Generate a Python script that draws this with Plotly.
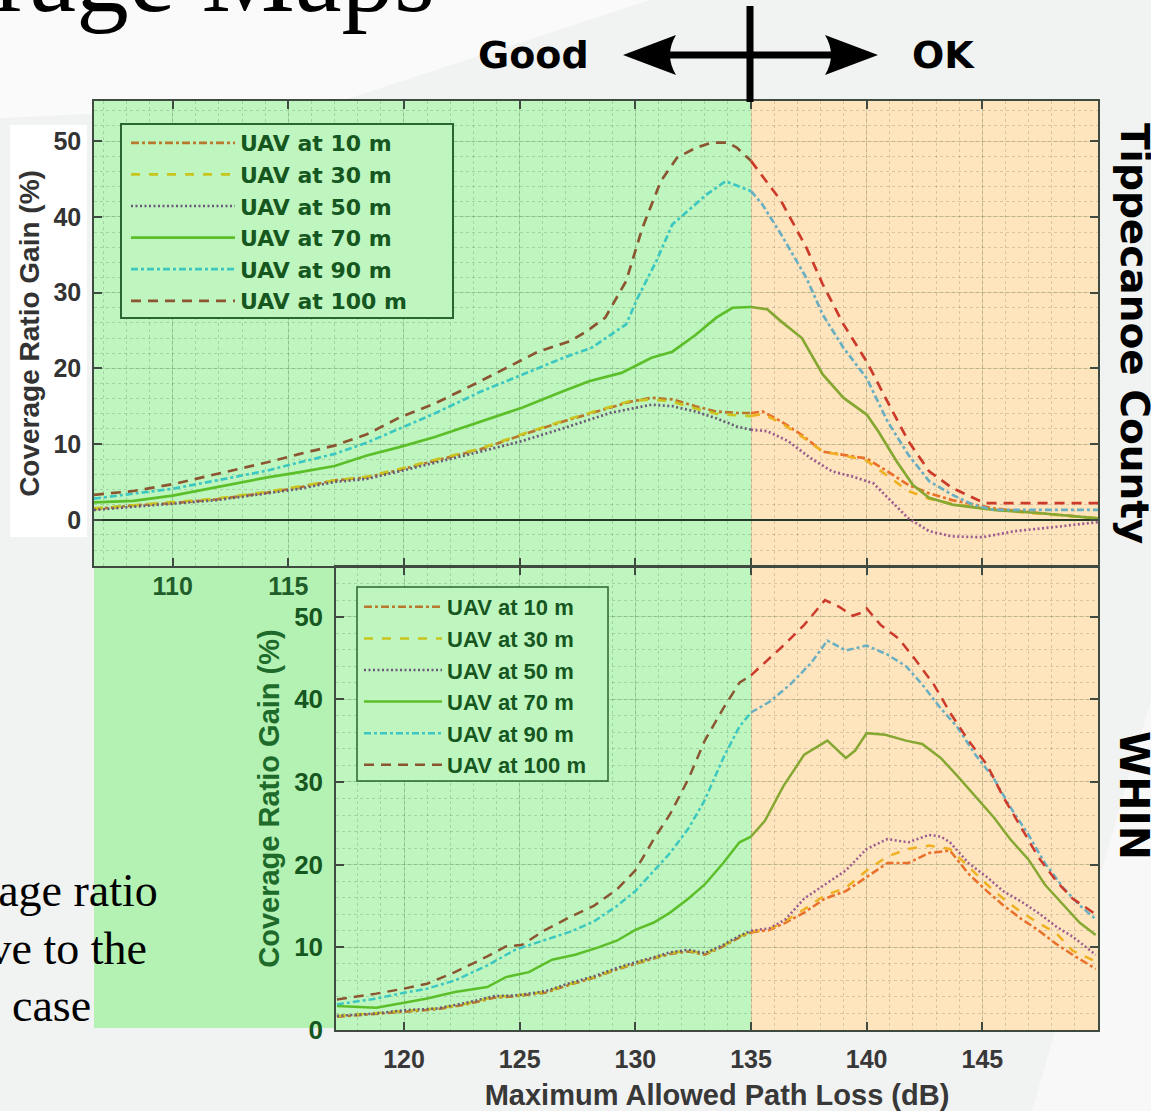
import plotly.graph_objects as go

W, H = 1151, 1111
def px(x): return x / W
def py(y): return 1 - y / H

SPLIT = 135

# ---------------- data: Tippecanoe County (top) ----------------
tip_x_10 = [106.6,108.3,110,111.9,114.1,115.5,117,118.4,119.8,121.3,123.3,125.1,126.9,128.9,129.8,130.7,131.6,132.6,133.5,134.4,135,135.5,136.3,137.2,138.1,139,140,140.9,141.8,142.7,143.7,145.5,147.4,150]
tip_y_10 = [1.4,1.9,2.2,2.7,3.6,4.3,5.2,5.6,6.6,7.8,9.3,11.2,13.0,14.8,15.6,16.1,15.9,15.0,14.3,14.1,14.1,14.3,13.0,11.2,9.0,8.6,8.1,6.4,4.6,3.5,2.6,1.5,0.9,0.2]
tip_x_30 = tip_x_10
tip_y_30 = [1.5,1.9,2.3,2.8,3.7,4.4,5.2,5.7,6.7,7.9,9.4,11.3,13.1,14.9,15.7,15.9,15.6,14.7,14.0,13.8,13.7,14.0,12.8,11.0,9.0,8.5,7.8,5.8,3.8,2.8,2.1,1.3,0.8,0.2]
tip_x_50 = [106.6,108.3,110,111.9,114.1,115.5,117,118.4,119.8,121.3,123.3,125.1,126.9,128.9,130.7,131.6,132.6,133.5,134.4,135,135.7,136.6,137.6,138.5,139.4,140.3,141.1,141.8,142.7,143.7,145,146.4,148.3,150]
tip_y_50 = [1.3,1.7,2.1,2.6,3.5,4.1,5.0,5.4,6.4,7.5,9.0,10.4,12.1,14.1,15.2,15.0,14.3,13.4,12.3,11.9,11.7,10.4,8.1,6.4,5.7,4.8,2.4,0.2,-1.5,-2.2,-2.3,-1.5,-0.9,-0.3]
tip_x_70 = [106.6,108.3,110,111.9,114.1,115.5,117,118.4,119.8,121.3,123.3,125.1,126.9,128,129.4,130.7,131.6,132.6,133.5,134.2,135,135.7,136.3,137.2,138.1,139,140,140.5,141.3,142,142.7,143.7,145.5,147.4,150]
tip_y_70 = [2.3,2.5,3.2,4.3,5.6,6.3,7.1,8.5,9.6,10.9,12.9,14.8,17.0,18.3,19.4,21.4,22.2,24.4,26.7,28.0,28.1,27.8,26.2,24.0,19.2,16.1,13.9,11.7,7.7,4.6,2.9,2.0,1.3,0.9,0.2]
tip_x_90 = [106.6,108.3,110,111.9,114.1,115.5,117,118.4,119.8,121.3,123.3,125.1,126.9,128.1,129.6,130.1,130.9,131.6,132.4,133.1,133.9,134.4,135,135.5,136.3,137.4,138.1,139,140,140.9,141.8,142.7,143.7,144.6,145.5,150]
tip_y_90 = [2.8,3.4,4.1,5.2,6.5,7.6,8.7,10.2,12.0,14.0,16.9,19.2,21.4,22.7,25.8,29.3,34.1,39.0,41.2,43.0,44.7,44.1,43.4,41.6,37.7,31.9,27.1,22.7,18.7,13.0,8.6,5.1,3.3,2.0,1.3,1.3]
tip_x_100 = [106.6,108.3,110,111.9,114.1,115.5,117,118.4,119.8,121.3,123.3,125.8,127.2,127.9,128.7,129.6,130.3,131.1,131.8,132.6,133.3,134.0,134.4,135,136.3,137.4,138.1,139,140,140.9,141.8,142.7,143.7,144.6,145.1,150]
tip_y_100 = [3.3,3.8,4.7,6.0,7.6,8.7,9.8,11.3,13.5,15.3,18.3,22.2,23.6,24.9,26.7,31.5,38.5,44.7,47.8,49.1,49.8,49.8,49.1,47.4,42.1,35.9,31.1,25.8,20.9,15.6,10.4,6.4,4.2,2.9,2.2,2.2]

# ---------------- data: WHIN (bottom) ----------------
whin_x_10 = [117.1,118.8,120,121.4,122.7,123.9,124.9,126.1,127.2,128.2,129.2,130,130.8,131.5,132.3,133,133.8,134.5,135,135.8,136.5,137.3,138.2,139.1,140,140.9,141.8,142.7,143.6,144.4,145.2,145.9,146.7,147.4,148.2,148.9,149.9]
whin_y_10 = [1.6,1.9,2.2,2.5,3.1,3.9,4.1,4.5,5.5,6.3,7.3,8.0,8.6,9.2,9.5,9.1,10.1,11.2,11.8,12.1,13.0,14.2,15.9,16.8,18.5,20.2,20.2,21.4,21.7,18.9,16.8,15.1,13.4,12.1,10.4,9.1,7.4]
whin_x_30 = whin_x_10
whin_y_30 = [1.7,2.0,2.3,2.6,3.2,4.0,4.2,4.6,5.6,6.4,7.4,8.1,8.7,9.3,9.6,9.2,10.2,11.3,11.9,12.2,13.2,14.6,16.3,17.2,19.3,21.0,21.9,22.3,21.9,19.7,17.6,15.9,14.2,13.0,11.7,9.6,8.3]
whin_x_50 = [117.1,118.8,120,121.4,122.7,123.9,124.9,126.1,127.2,128.2,129.2,130,130.8,131.5,132.3,133,133.8,134.5,135,135.8,136.5,137.3,138.2,139.1,140,140.9,141.8,142.7,143.2,143.6,144.4,145.2,145.9,146.7,147.4,148.2,148.9,149.9]
whin_y_50 = [1.7,2.0,2.4,2.6,3.3,4.1,4.2,4.7,5.7,6.5,7.5,8.2,8.8,9.4,9.7,9.3,10.3,11.4,12.0,12.3,13.4,15.9,17.6,19.3,21.9,23.1,22.7,23.6,23.4,22.7,20.2,18.5,16.8,15.5,14.2,12.5,11.3,9.1]
whin_x_70 = [117.1,118.8,120,121,122.2,123.6,124.4,125.4,126.4,127.4,128.4,129.2,130,130.8,131.5,132.3,133,133.8,134.5,135,135.6,136.4,137.3,138.3,139.1,139.5,140,140.8,141.7,142.4,143.2,143.9,144.7,145.5,146.2,147,147.7,148.5,149.2,149.9]
whin_y_70 = [2.9,2.7,3.3,3.8,4.6,5.2,6.4,7.0,8.5,9.1,10.0,10.8,12.1,13.0,14.2,15.9,17.6,20.2,22.7,23.4,25.3,29.5,33.3,35.0,32.9,33.8,35.9,35.7,35.0,34.6,32.9,30.8,28.2,25.7,23.1,20.6,17.6,15.1,13.0,11.5]
whin_x_90 = [117.1,118.8,120,121,122.2,123.6,124.8,126.1,127.2,128.2,129.2,130,130.8,131.5,132.3,133,133.8,134.5,135,135.8,136.7,137.6,138.3,139.1,140,140.9,141.7,142.4,143.2,143.9,144.7,145.5,146.2,147,147.7,148.5,149.2,149.9]
whin_y_90 = [3.1,3.8,4.5,5.0,6.0,7.8,9.7,10.9,11.9,13.1,15.0,16.8,19.3,21.4,24.4,27.8,32.9,36.7,38.4,39.7,41.8,44.4,47.1,45.9,46.5,45.4,44.0,41.8,38.9,36.7,33.3,30.4,27.0,23.6,20.2,17.2,15.1,13.4]
whin_x_100 = [117.1,118.8,120,121,122.2,123.6,124.4,125.1,126.1,127.2,128.2,129.2,130,130.8,131.5,132.3,133,133.8,134.5,135,135.6,136.4,137.3,138.2,138.8,139.4,139.8,140,140.6,141.4,142.1,142.9,143.6,144.4,145.2,145.9,146.7,147.4,148.2,148.9,149.9]
whin_y_100 = [3.7,4.4,5.0,5.6,7.0,8.9,10.1,10.3,12.1,13.7,15.0,17.0,19.3,23.1,26.1,30.4,35.0,38.9,42.0,42.9,44.4,46.5,49.0,52.0,51.2,50.1,50.5,51.0,49.0,47.3,44.8,41.8,38.4,35.0,32.1,28.2,24.4,21.0,18.0,15.9,14.0]

series_names = ["UAV at 10 m", "UAV at 30 m", "UAV at 50 m", "UAV at 70 m", "UAV at 90 m", "UAV at 100 m"]
tip_series = [(tip_x_10, tip_y_10), (tip_x_30, tip_y_30), (tip_x_50, tip_y_50),
              (tip_x_70, tip_y_70), (tip_x_90, tip_y_90), (tip_x_100, tip_y_100)]
whin_series = [(whin_x_10, whin_y_10), (whin_x_30, whin_y_30), (whin_x_50, whin_y_50),
               (whin_x_70, whin_y_70), (whin_x_90, whin_y_90), (whin_x_100, whin_y_100)]

x_ticks = [110, 115, 120, 125, 130, 135, 140, 145]
top_x_ticktext = ["110", "115", "", "", "", "", "", ""]
y_ticks = [0, 10, 20, 30, 40, 50]

# styles: colour in green zone, colour in orange zone, dash
green_cols = ["#b8782e", "#c9c41e", "#6a5a78", "#5cbf2a", "#3cc8c0", "#8a5530"]
orange_cols = ["#e8702a", "#efb022", "#9c5a8e", "#86a832", "#6aaec2", "#cc3a2a"]
dashes = ["8px,3px,3px,3px", "9px,9px", "2px,2.5px", "solid", "7px,3px,3px,3px", "10px,7px"]

GREEN_BG = "#bff6bf"
ORANGE_BG = "#ffe5be"
DKGREEN = "#16561f"
BOX_LINE = "#2a6632"

fig = go.Figure()

def add_series(series, xa, ya, leg, width):
    for i, (xs, ys) in enumerate(series):
        gx = [x for x in xs if x <= SPLIT]
        gy = [y for x, y in zip(xs, ys) if x <= SPLIT]
        ox = [x for x in xs if x >= SPLIT]
        oy = [y for x, y in zip(xs, ys) if x >= SPLIT]
        grp = leg + str(i)
        fig.add_trace(go.Scatter(x=gx, y=gy, mode="lines", name=series_names[i],
                                 line=dict(color=green_cols[i], width=width, dash=dashes[i]),
                                 xaxis=xa, yaxis=ya, legend=leg, legendgroup=grp, showlegend=True))
        fig.add_trace(go.Scatter(x=ox, y=oy, mode="lines", name=series_names[i],
                                 line=dict(color=orange_cols[i], width=width, dash=dashes[i]),
                                 xaxis=xa, yaxis=ya, legend=leg, legendgroup=grp, showlegend=False))

add_series(tip_series, "x", "y", "legend", 2.7)
add_series(whin_series, "x2", "y2", "legend2", 2.5)

AX_LINE = "#3f4a40"
common_axis = dict(showline=True, linecolor=AX_LINE, linewidth=1.5, mirror="ticks",
                   ticks="inside", ticklen=8, tickwidth=1.5, tickcolor=AX_LINE,
                   showgrid=True, gridcolor="rgba(0,60,0,0.13)", gridwidth=1, zeroline=False,
                   automargin=False)

fig.update_layout(
    width=W, height=H, autosize=False,
    margin=dict(l=0, r=0, t=0, b=0, pad=0, autoexpand=False),
    paper_bgcolor="#f1f2f2", plot_bgcolor="rgba(0,0,0,0)",
    xaxis=dict(domain=[px(94), px(1098)], range=[106.6, 150], anchor="y",
               tickvals=x_ticks, ticktext=top_x_ticktext,
               tickfont=dict(family="Liberation Sans", size=25, color="#1f5e2a", weight="bold"),
               ticklabelstandoff=-3,
               minor=dict(dtick=1, showgrid=True, gridcolor="rgba(0,0,0,0.14)", griddash="dot", gridwidth=1),
               **common_axis),
    yaxis=dict(domain=[py(566), py(101)], range=[-6.1, 55.3], anchor="x",
               tickvals=y_ticks,
               tickfont=dict(family="Liberation Sans", size=25, color="#333333", weight="bold"),
               ticklabelstandoff=6,
               title=dict(text="Coverage Ratio Gain (%)", standoff=6,
                          font=dict(family="Liberation Sans", size=28, color="#333333", weight="bold")),
               minor=dict(dtick=2, showgrid=True, gridcolor="rgba(0,0,0,0.14)", griddash="dot", gridwidth=1),
               **{**common_axis, "zeroline": True}, zerolinecolor="#243a26", zerolinewidth=1.6),
    xaxis2=dict(domain=[px(336), px(1098)], range=[117.06, 150], anchor="y2",
                tickvals=x_ticks,
                tickfont=dict(family="Liberation Sans", size=25, color="#383838", weight="bold"),
                ticklabelstandoff=6,
                title=dict(text="Maximum Allowed Path Loss (dB)", standoff=18,
                           font=dict(family="Liberation Sans", size=29, color="#383838", weight="bold")),
                minor=dict(dtick=1, showgrid=True, gridcolor="rgba(0,0,0,0.14)", griddash="dot", gridwidth=1),
                **common_axis),
    yaxis2=dict(domain=[py(1030), py(567)], range=[0, 56], anchor="x2",
                tickvals=y_ticks,
                tickfont=dict(family="Liberation Sans", size=26, color=DKGREEN, weight="bold"),
                ticklabelstandoff=6,
                title=dict(text="Coverage Ratio Gain (%)", standoff=6,
                           font=dict(family="Liberation Sans", size=29, color="#1e6a2a", weight="bold")),
                minor=dict(dtick=2, showgrid=True, gridcolor="rgba(0,0,0,0.14)", griddash="dot", gridwidth=1),
                **common_axis),
    legend=dict(x=px(126), y=py(122), xanchor="left", yanchor="top", xref="paper", yref="paper",
                bgcolor="rgba(0,0,0,0)", borderwidth=0, itemwidth=104,
                font=dict(family="DejaVu Sans", size=22, color=DKGREEN, weight="bold"),
                tracegroupgap=0, traceorder="normal"),
    legend2=dict(x=px(359), y=py(586), xanchor="left", yanchor="top", xref="paper", yref="paper",
                 bgcolor="rgba(0,0,0,0)", borderwidth=0, itemwidth=78,
                 font=dict(family="Liberation Sans", size=22, color=DKGREEN, weight="bold"),
                 tracegroupgap=0, traceorder="normal"),
)

shapes = []
def ppath(points):
    return "M " + " L ".join(f"{px(x):.5f},{py(y):.5f}" for x, y in points) + " Z"
# slide background wedges
shapes.append(dict(type="path", xref="paper", yref="paper", layer="below",
                   path=ppath([(0, 0), (650, 0), (335, 103), (0, 118)]),
                   fillcolor="#fafafa", line=dict(width=0)))
shapes.append(dict(type="path", xref="paper", yref="paper", layer="below",
                   path=ppath([(1032, 1111), (1151, 700), (1151, 1111)]),
                   fillcolor="#f8f8f8", line=dict(width=0)))
# white box behind top y labels
shapes.append(dict(type="rect", xref="paper", yref="paper", layer="below",
                   x0=px(10), x1=px(87), y0=py(537), y1=py(125),
                   fillcolor="#ffffff", line=dict(width=0)))
# green panel left of lower chart
shapes.append(dict(type="rect", xref="paper", yref="paper", layer="below",
                   x0=px(94), x1=px(336), y0=py(1028), y1=py(566),
                   fillcolor="#b3f2b3", line=dict(width=0)))
# zone backgrounds
for xa, ya in (("x", "y domain"), ("x2", "y2 domain")):
    shapes.append(dict(type="rect", xref=xa, yref=ya, layer="below", x0=100, x1=SPLIT, y0=0, y1=1,
                       fillcolor=GREEN_BG, line=dict(width=0)))
    shapes.append(dict(type="rect", xref=xa, yref=ya, layer="below", x0=SPLIT, x1=160, y0=0, y1=1,
                       fillcolor=ORANGE_BG, line=dict(width=0)))
# legend frames (boxes behind the plotly legends)
shapes.append(dict(type="rect", xref="paper", yref="paper", layer="above",
                   x0=px(121), x1=px(453), y0=py(318), y1=py(124),
                   fillcolor=GREEN_BG, line=dict(color=BOX_LINE, width=2)))
shapes.append(dict(type="rect", xref="paper", yref="paper", layer="above",
                   x0=px(357), x1=px(608), y0=py(781), y1=py(587),
                   fillcolor=GREEN_BG, line=dict(color=BOX_LINE, width=1.5)))
# Good / OK arrow
shapes.append(dict(type="line", xref="paper", yref="paper", layer="above",
                   x0=px(665), x1=px(838), y0=py(55), y1=py(55), line=dict(color="black", width=7)))
shapes.append(dict(type="line", xref="paper", yref="paper", layer="above",
                   x0=px(750), x1=px(750), y0=py(6), y1=py(102), line=dict(color="black", width=7)))
shapes.append(dict(type="path", xref="paper", yref="paper", layer="above",
                   path=f"M {px(623)},{py(55)} L {px(676)},{py(35)} Q {px(664)},{py(55)} {px(676)},{py(75)} Z",
                   fillcolor="black", line=dict(width=0)))
shapes.append(dict(type="path", xref="paper", yref="paper", layer="above",
                   path=f"M {px(878)},{py(55)} L {px(825)},{py(35)} Q {px(837)},{py(55)} {px(825)},{py(75)} Z",
                   fillcolor="black", line=dict(width=0)))
fig.update_layout(shapes=shapes)

ann = []
ann.append(dict(text="Coverage Maps", x=px(437), y=py(-25), xref="paper", yref="paper",
                xanchor="right", yanchor="middle", showarrow=False,
                font=dict(family="Liberation Serif", size=105, color="black")))
ann.append(dict(text="Good", x=px(533), y=py(55), xref="paper", yref="paper", showarrow=False,
                xanchor="center", yanchor="middle",
                font=dict(family="DejaVu Sans", size=38, color="black", weight="bold")))
ann.append(dict(text="OK", x=px(943), y=py(55), xref="paper", yref="paper", showarrow=False,
                xanchor="center", yanchor="middle",
                font=dict(family="DejaVu Sans", size=38, color="black", weight="bold")))
ann.append(dict(text="Tippecanoe County", x=px(1135), y=py(333), xref="paper", yref="paper",
                showarrow=False, textangle=90, xanchor="center", yanchor="middle",
                font=dict(family="DejaVu Sans", size=39, color="black", weight="bold")))
ann.append(dict(text="WHIN", x=px(1134), y=py(795), xref="paper", yref="paper",
                showarrow=False, textangle=90, xanchor="center", yanchor="middle",
                font=dict(family="DejaVu Sans", size=41, color="black", weight="bold")))
for txt, xr, yc in (("coverage ratio", 160, 890), ("relative to the", 149, 948), ("case", 93, 1005)):
    ann.append(dict(text=txt, x=px(xr), y=py(yc), xref="paper", yref="paper", showarrow=False,
                    xanchor="right", yanchor="middle",
                    font=dict(family="Liberation Serif", size=46, color="black")))
fig.update_layout(annotations=ann)

fig.write_html("out.html")
